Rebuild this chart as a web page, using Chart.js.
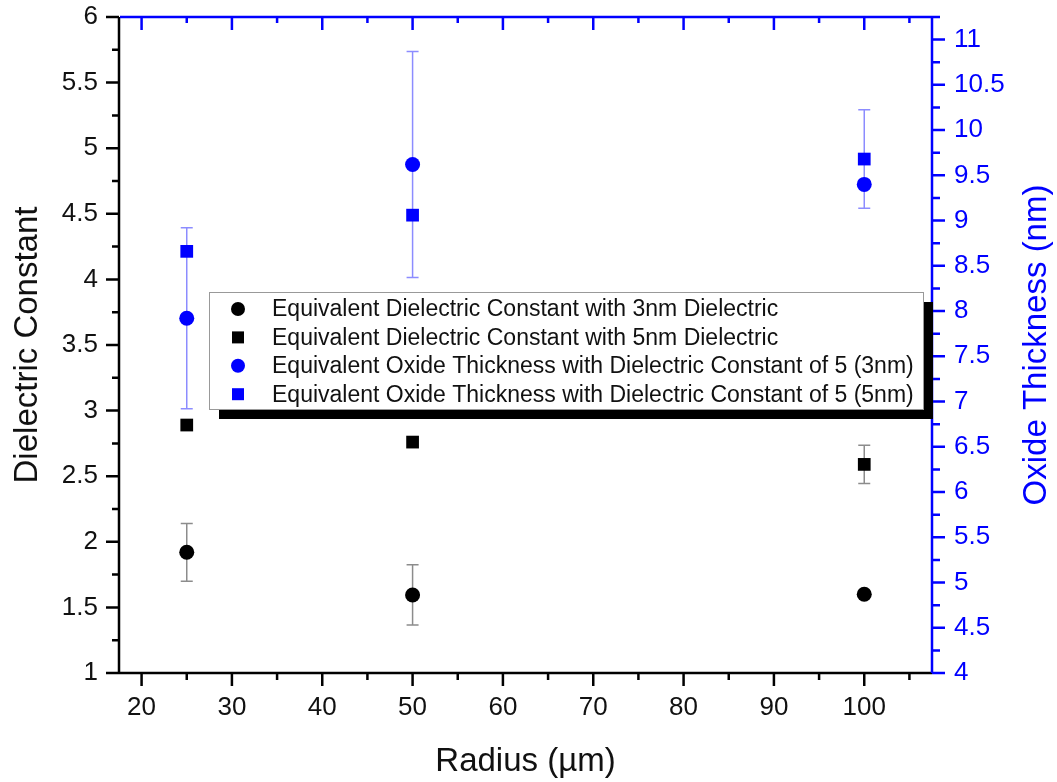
<!DOCTYPE html>
<html>
<head>
<meta charset="utf-8">
<script src="https://cdn.jsdelivr.net/npm/chart.js@4/dist/chart.umd.min.js"></script>
<style>
  html, body { margin: 0; padding: 0; background: #fff; }
</style>
</head>
<body>
<canvas id="chart" width="1057" height="782"></canvas>
<script>
// ====== Data ======
const RADIUS = [25, 50, 100];

const K_3NM = [1.92, 1.595, 1.60];
const K_3NM_ERR = [0.22, 0.23, 0];
const K_5NM = [2.89, 2.76, 2.59];
const K_5NM_ERR = [0, 0, 0.145];

const EOT_3NM = [7.92, 9.62, 9.40];
const EOT_3NM_ERR = [1.0, 1.25, 0];
const EOT_5NM = [8.66, 9.06, 9.68];
const EOT_5NM_ERR = [0, 0, 0.545];

const X_TICKS = [20, 30, 40, 50, 60, 70, 80, 90, 100];
const LEFT_TICKS = [1, 1.5, 2, 2.5, 3, 3.5, 4, 4.5, 5, 5.5, 6];
const RIGHT_TICKS = [4, 4.5, 5, 5.5, 6, 6.5, 7, 7.5, 8, 8.5, 9, 9.5, 10, 10.5, 11];

const LABELS = [
  "Equivalent Dielectric Constant with 3nm Dielectric",
  "Equivalent Dielectric Constant with 5nm Dielectric",
  "Equivalent Oxide Thickness with Dielectric Constant of 5 (3nm)",
  "Equivalent Oxide Thickness with Dielectric Constant of 5 (5nm)"
];

const BLUE = "#0000ff";
const FONT = "Arial, 'Liberation Sans', sans-serif";

function pts(ys) {
  return RADIUS.map((x, i) => ({ x: x, y: ys[i] }));
}

// ====== Plugins ======
const errorBars = {
  id: "errorBars",
  beforeDatasetsDraw(chart) {
    const ctx = chart.ctx;
    const xs = chart.scales.x;
    chart.data.datasets.forEach(ds => {
      if (!ds.errors) return;
      const ys = chart.scales[ds.yAxisID];
      ctx.save();
      ctx.strokeStyle = ds.errorColor;
      ctx.lineWidth = 1.5;
      ds.data.forEach((p, i) => {
        const e = ds.errors[i];
        if (!e) return;
        const px = xs.getPixelForValue(p.x);
        const y1 = ys.getPixelForValue(p.y + e);
        const y2 = ys.getPixelForValue(p.y - e);
        ctx.beginPath();
        ctx.moveTo(px, y1); ctx.lineTo(px, y2);
        ctx.moveTo(px - 6, y1); ctx.lineTo(px + 6, y1);
        ctx.moveTo(px - 6, y2); ctx.lineTo(px + 6, y2);
        ctx.stroke();
      });
      ctx.restore();
    });
  }
};

function ticksFor(scale, majors, minorStep, from, to) {
  const list = [];
  majors.forEach(v => list.push({ v: v, major: true }));
  for (let v = from; v <= to + 1e-9; v += minorStep) {
    if (!majors.some(m => Math.abs(m - v) < 1e-6)) list.push({ v: v, major: false });
  }
  return list.map(t => ({ p: scale.getPixelForValue(t.v), major: t.major }));
}

const frame = {
  id: "frame",
  afterDraw(chart) {
    const ctx = chart.ctx;
    const a = chart.chartArea;
    const xs = chart.scales.x, yl = chart.scales.yLeft, yr = chart.scales.yRight;
    ctx.save();
    ctx.lineWidth = 2.5;

    // bottom axis
    ctx.strokeStyle = "#000";
    ctx.beginPath();
    ctx.moveTo(a.left, a.bottom); ctx.lineTo(a.right, a.bottom);
    ticksFor(xs, X_TICKS, 5, 20, 105).forEach(t => {
      ctx.moveTo(t.p, a.bottom); ctx.lineTo(t.p, a.bottom + (t.major ? 13 : 7));
    });
    ctx.stroke();

    // left axis
    ctx.beginPath();
    ctx.moveTo(a.left, a.top); ctx.lineTo(a.left, a.bottom);
    ticksFor(yl, LEFT_TICKS, 0.25, 1, 6).forEach(t => {
      ctx.moveTo(a.left, t.p); ctx.lineTo(a.left - (t.major ? 13 : 7), t.p);
    });
    ctx.stroke();

    // top axis (blue, inward ticks)
    ctx.strokeStyle = BLUE;
    ctx.beginPath();
    ctx.moveTo(a.left + 1, a.top); ctx.lineTo(a.right, a.top);
    ticksFor(xs, X_TICKS, 5, 20, 105).forEach(t => {
      ctx.moveTo(t.p, a.top); ctx.lineTo(t.p, a.top + (t.major ? 13 : 6));
    });
    ctx.stroke();

    // right axis
    ctx.beginPath();
    ctx.moveTo(a.right, a.top); ctx.lineTo(a.right, a.bottom);
    ticksFor(yr, RIGHT_TICKS, 0.25, 4, 11.25).forEach(t => {
      ctx.moveTo(a.right, t.p); ctx.lineTo(a.right + (t.major ? 13 : 8), t.p);
    });
    ctx.stroke();

    // right axis title, reading bottom to top
    ctx.fillStyle = BLUE;
    ctx.font = "33px " + FONT;
    ctx.textAlign = "center";
    ctx.textBaseline = "middle";
    ctx.translate(1037, (a.top + a.bottom) / 2);
    ctx.rotate(-Math.PI / 2);
    ctx.fillText("Oxide Thickness (nm)", 0, 0);
    ctx.restore();
  }
};

const boxLegend = {
  id: "boxLegend",
  afterDraw(chart) {
    const ctx = chart.ctx;
    const L = 209, T = 292, W = 714, H = 117, off = 10;
    ctx.save();
    ctx.fillStyle = "#000";
    ctx.fillRect(L + off, T + off, W, H);
    ctx.fillStyle = "#fff";
    ctx.fillRect(L, T, W, H);
    ctx.strokeStyle = "#999";
    ctx.lineWidth = 1;
    ctx.strokeRect(L + 0.5, T + 0.5, W, H);

    ctx.font = "23px " + FONT;
    ctx.textAlign = "left";
    ctx.textBaseline = "middle";
    chart.data.datasets.forEach((ds, i) => {
      const cy = 309 + i * 28.4;
      ctx.fillStyle = ds.backgroundColor;
      if (ds.pointStyle === "circle") {
        ctx.beginPath();
        ctx.arc(238, cy, 7, 0, Math.PI * 2);
        ctx.fill();
      } else {
        ctx.fillRect(232, cy - 6, 12, 12);
      }
      ctx.fillStyle = "#111";
      ctx.fillText(ds.label, 272, cy + 1);
    });
    ctx.restore();
  }
};

const noPad = s => { s.paddingTop = 0; s.paddingBottom = 0; s.paddingLeft = 0; s.paddingRight = 0; };
const plain = v => String(v);

// ====== Chart ======
const ctx = document.getElementById("chart").getContext("2d");
const chart = new Chart(ctx, {
  type: "scatter",
  data: {
    datasets: [
      { label: LABELS[0], data: pts(K_3NM), errors: K_3NM_ERR, errorColor: "#8c8c8c",
        yAxisID: "yLeft", pointStyle: "circle", pointRadius: 7.5,
        backgroundColor: "#000", borderWidth: 0 },
      { label: LABELS[1], data: pts(K_5NM), errors: K_5NM_ERR, errorColor: "#8c8c8c",
        yAxisID: "yLeft", pointStyle: "rect", pointRadius: 9,
        backgroundColor: "#000", borderWidth: 0 },
      { label: LABELS[2], data: pts(EOT_3NM), errors: EOT_3NM_ERR, errorColor: "rgba(0,0,255,0.45)",
        yAxisID: "yRight", pointStyle: "circle", pointRadius: 7.5,
        backgroundColor: BLUE, borderWidth: 0 },
      { label: LABELS[3], data: pts(EOT_5NM), errors: EOT_5NM_ERR, errorColor: "rgba(0,0,255,0.45)",
        yAxisID: "yRight", pointStyle: "rect", pointRadius: 9,
        backgroundColor: BLUE, borderWidth: 0 }
    ]
  },
  options: {
    responsive: false,
    animation: false,
    devicePixelRatio: 1,
    layout: { padding: { top: 17, left: 0, right: 0, bottom: 0 } },
    plugins: { legend: { display: false }, tooltip: { enabled: false } },
    elements: { point: { borderWidth: 0 } },
    scales: {
      x: {
        type: "linear", position: "bottom", min: 17.5, max: 107.5,
        afterBuildTicks: s => { s.ticks = X_TICKS.map(v => ({ value: v })); },
        afterFit: s => { s.height = 109; noPad(s); },
        grid: { display: false, drawTicks: false },
        border: { display: false },
        ticks: { padding: 19, color: "#111", font: { family: FONT, size: 26 }, callback: plain },
        title: { display: true, text: "Radius (µm)", color: "#111",
                 font: { family: FONT, size: 33 }, padding: { top: 0, bottom: 0 } }
      },
      yLeft: {
        type: "linear", position: "left", min: 1, max: 6,
        afterBuildTicks: s => { s.ticks = LEFT_TICKS.map(v => ({ value: v })); },
        afterFit: s => { s.width = 119; noPad(s); },
        grid: { display: false, drawTicks: false },
        border: { display: false },
        ticks: { padding: 21, color: "#111", font: { family: FONT, size: 26 }, callback: plain },
        title: { display: true, text: "Dielectric Constant", color: "#111",
                 font: { family: FONT, size: 33 }, padding: { top: 8, bottom: 0 } }
      },
      yRight: {
        type: "linear", position: "right", min: 4, max: 11.25,
        afterBuildTicks: s => { s.ticks = RIGHT_TICKS.map(v => ({ value: v })); },
        afterFit: s => { s.width = 125; noPad(s); },
        grid: { display: false, drawTicks: false },
        border: { display: false },
        ticks: { padding: 22, color: BLUE, font: { family: FONT, size: 26 }, callback: plain }
      }
    }
  },
  plugins: [errorBars, frame, boxLegend]
});
</script>
</body>
</html>
